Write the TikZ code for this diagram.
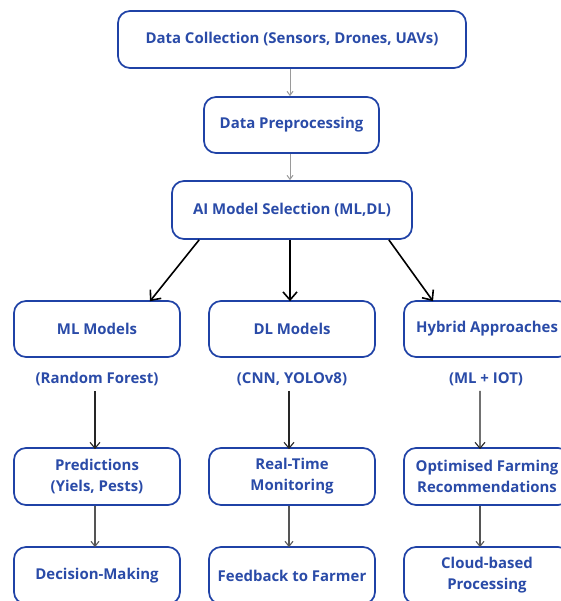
\documentclass[tikz,border=0pt]{standalone}
\usepackage{fontspec}
\setmainfont{Open Sans}
\usetikzlibrary{arrows.meta}
\definecolor{boxblue}{HTML}{1F42A6}
\definecolor{txtblue}{HTML}{2A4BA8}
\definecolor{lightarr}{HTML}{9A9A9A}
\definecolor{midarr}{HTML}{555555}
\tikzset{
  box/.style={draw=boxblue, line width=1.7bp, rounded corners=12bp, text=txtblue,
    font=\bfseries\fontsize{15}{21}\selectfont, align=center, inner sep=0pt,
    minimum width=166bp, minimum height=56bp},
  sublabel/.style={text=txtblue, font=\bfseries\fontsize{15}{18}\selectfont, inner sep=0pt},
  thinarr/.style={draw=lightarr, line width=1bp, -{Straight Barb[length=4bp,width=6bp]}},
  midarrow/.style={draw=midarr, line width=1.1bp, -{Straight Barb[length=5bp,width=8bp]}},
  blkarr/.style={draw=black!85, line width=1.1bp, -{Straight Barb[length=6bp,width=10bp]}},
  bigarr/.style={draw=black, line width=1.6bp, -{Straight Barb[length=8bp,width=14bp]}}
}
\begin{document}
\begin{tikzpicture}[x=1bp,y=-1bp]
\useasboundingbox (0,0) rectangle (561,601);
\clip (0,0) rectangle (561,601);
\fill[white] (0,0) rectangle (561,601);
% top chain
\node[box, minimum width=348bp, minimum height=57bp] (dc) at (292,39.5) {Data Collection (Sensors, Drones, UAVs)};
\node[box, minimum width=175bp, minimum height=56bp] (dp) at (291.5,125) {Data Preprocessing};
\node[box, minimum width=240bp, minimum height=58bp] (ai) at (292,210) {AI Model Selection (ML,DL)};
% row 3
\node[box] (ml) at (97,329) {ML Models};
\node[box] (dl) at (292,329) {DL Models};
\node[box] (hy) at (487,329) {Hybrid Approaches};
% sub labels
\node[sublabel] (l1) at (97,379) {(Random Forest)};
\node[sublabel] (l2) at (292,379) {(CNN, YOLOv8)};
\node[sublabel] (l3) at (486,379) {(ML + IOT)};
% row 4
\node[box, minimum height=57bp] (pr) at (97,476.5) {Predictions\\(Yiels, Pests)};
\node[box, minimum height=57bp] (rt) at (292,476.5) {Real-Time\\Monitoring};
\node[box, minimum height=57bp] (of) at (487,476.5) {Optimised Farming\\Recommendations};
% row 5
\node[box, minimum height=57bp] (dm) at (97,575.5) {Decision-Making};
\node[box, minimum height=57bp] (fb) at (292,575.5) {Feedback to Farmer};
\node[box, minimum height=57bp] (cb) at (487,575.5) {Cloud-based\\Processing};
% connectors
\draw[thinarr] ([xshift=-2bp]dc.south) -- ([xshift=-1.5bp]dp.north);
\draw[thinarr] ([xshift=-1.5bp]dp.south) -- ([xshift=-2bp]ai.north);
\draw[bigarr] ([xshift=28bp]ai.south west) -- ([xshift=53bp,yshift=-1bp]ml.north);
\draw[bigarr] ([xshift=-2bp]ai.south) -- ([xshift=-2bp,yshift=-1bp]dl.north);
\draw[bigarr] ([xshift=-24bp]ai.south east) -- ([xshift=-54bp,yshift=-1bp]hy.north);
\draw[blkarr] ([xshift=-2bp,yshift=-5bp]l1.south) -- ([xshift=-2bp,yshift=-2bp]pr.north);
\draw[blkarr] ([xshift=-3bp,yshift=-5bp]l2.south) -- ([xshift=-3bp,yshift=-2bp]rt.north);
\draw[blkarr] ([xshift=-6bp,yshift=-5bp]l3.south) -- ([xshift=-7bp,yshift=-2bp]of.north);
\draw[midarrow] ([xshift=-2bp]pr.south) -- ([xshift=-2bp,yshift=-1bp]dm.north);
\draw[midarrow] ([xshift=-3bp]rt.south) -- ([xshift=-3bp,yshift=-1bp]fb.north);
\draw[midarrow] ([xshift=-7bp]of.south) -- ([xshift=-7bp,yshift=-1bp]cb.north);
\end{tikzpicture}
\end{document}
